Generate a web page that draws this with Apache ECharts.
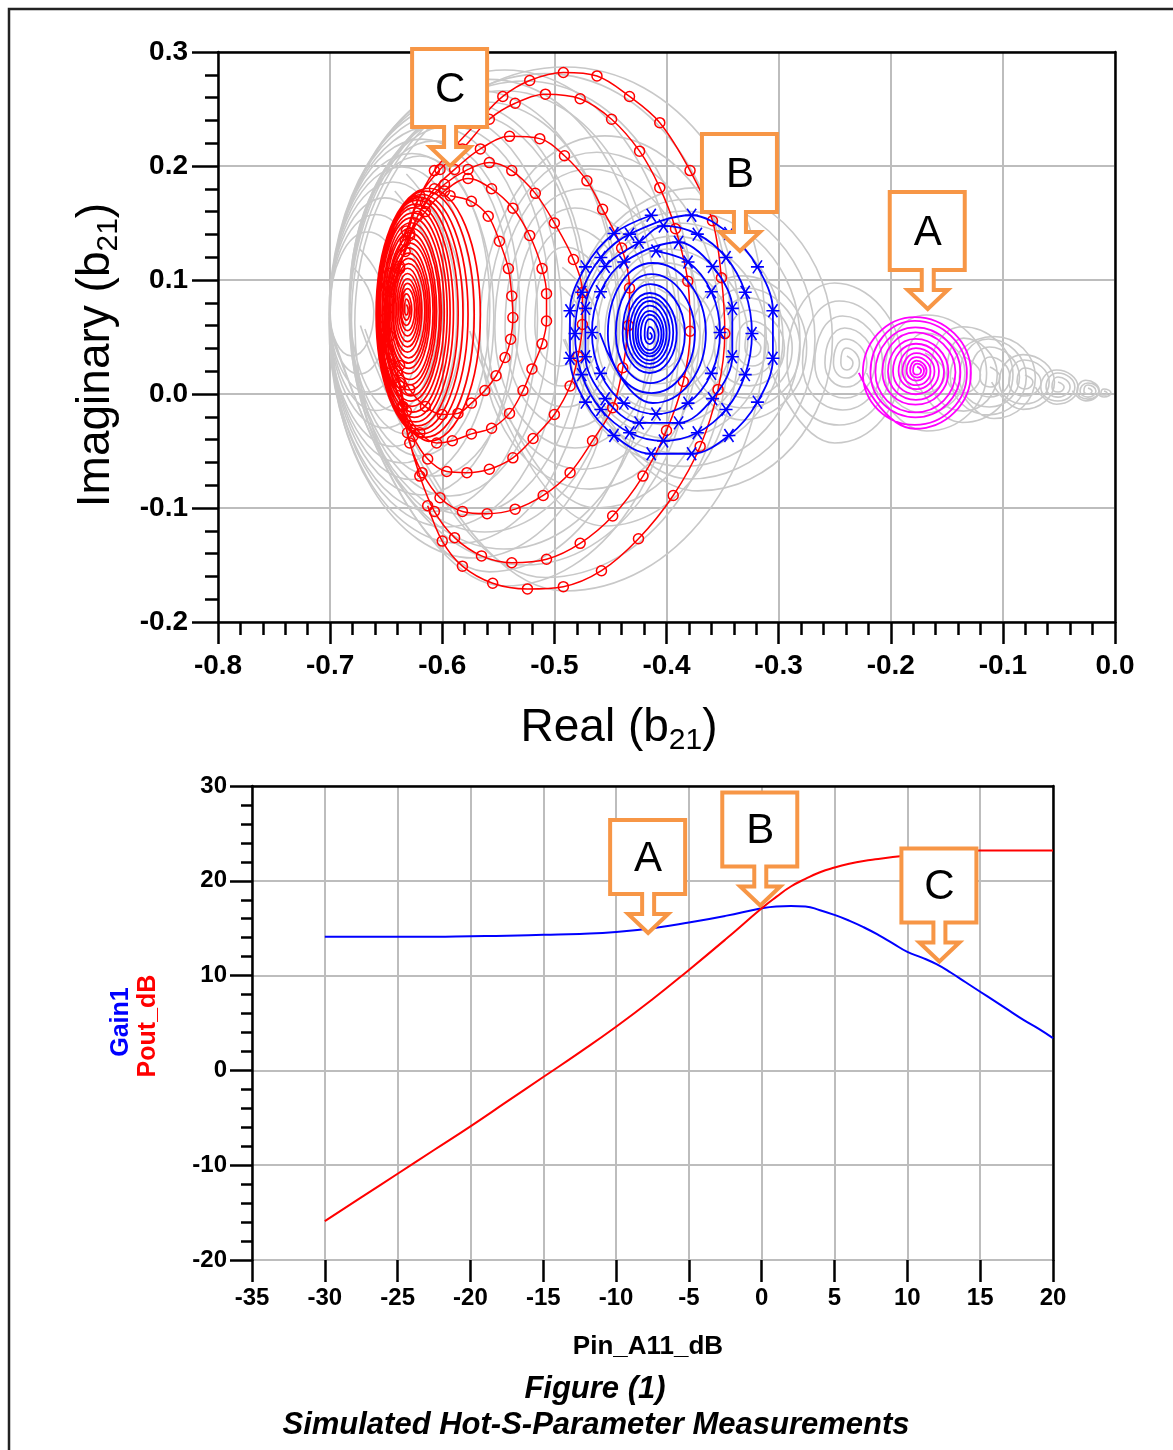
<!DOCTYPE html>
<html>
<head>
<meta charset="utf-8">
<script src="https://cdn.jsdelivr.net/npm/echarts@6.0.0/dist/echarts.min.js"></script>
<style>html,body{margin:0;padding:0;background:#fff}#c{width:1173px;height:1450px}</style>
</head>
<body>
<div id="c"></div>
<script>
// ================= TOP CHART: b21 trajectories =================
// Dense inner turns, read as [centreX, centreY, halfWidth, halfHeight] per turn (inside -> out)
const redInnerLoops = [
  [-0.632, 0.074, 0.0016, 0.0046], [-0.632, 0.074, 0.0032, 0.0092], [-0.632, 0.074, 0.0048, 0.0138],
  [-0.631, 0.074, 0.0064, 0.0184], [-0.631, 0.074, 0.008, 0.023], [-0.631, 0.0735, 0.0096, 0.0276],
  [-0.631, 0.0735, 0.0112, 0.0322], [-0.631, 0.0735, 0.0128, 0.0368], [-0.630, 0.073, 0.0144, 0.0414],
  [-0.630, 0.073, 0.016, 0.046], [-0.630, 0.073, 0.0176, 0.0506], [-0.630, 0.073, 0.0192, 0.0552],
  [-0.629, 0.0725, 0.0208, 0.0598], [-0.629, 0.0725, 0.0224, 0.0644], [-0.629, 0.0725, 0.024, 0.069],
  [-0.628, 0.072, 0.0256, 0.0736], [-0.628, 0.072, 0.0272, 0.0782], [-0.627, 0.072, 0.0288, 0.0828],
  [-0.626, 0.0715, 0.0304, 0.0874], [-0.625, 0.0715, 0.032, 0.092], [-0.624, 0.071, 0.034, 0.0955],
  [-0.622, 0.071, 0.0362, 0.099], [-0.620, 0.0705, 0.0385, 0.102], [-0.618, 0.070, 0.041, 0.105],
  [-0.615, 0.070, 0.0435, 0.108], [-0.612, 0.0695, 0.046, 0.111]
];
// Outer turns of the red spiral: the marker positions [Re, Im]
const redOuterPath = [
  [-0.593, 0.174], [-0.574, 0.169], [-0.559, 0.156], [-0.549, 0.134], [-0.541, 0.110], [-0.538, 0.086], [-0.537, 0.067],
  [-0.539, 0.048], [-0.544, 0.032], [-0.552, 0.016], [-0.562, 0.003], [-0.574, -0.008], [-0.586, -0.017], [-0.600, -0.018],
  [-0.615, -0.011], [-0.629, 0.004], [-0.638, 0.025], [-0.647, 0.051], [-0.647, 0.082], [-0.638, 0.112], [-0.629, 0.139],
  [-0.615, 0.160], [-0.598, 0.178],
  [-0.577, 0.189], [-0.556, 0.180], [-0.537, 0.163], [-0.522, 0.139], [-0.511, 0.110], [-0.507, 0.088], [-0.507, 0.064],
  [-0.511, 0.044], [-0.520, 0.022], [-0.528, 0.003], [-0.540, -0.017], [-0.556, -0.030], [-0.574, -0.035], [-0.591, -0.041],
  [-0.605, -0.043], [-0.620, -0.034], [-0.632, -0.015], [-0.638, 0.010], [-0.648, 0.039], [-0.648, 0.075], [-0.638, 0.110],
  [-0.629, 0.141], [-0.615, 0.167], [-0.598, 0.184],
  [-0.577, 0.197], [-0.558, 0.203], [-0.538, 0.196], [-0.517, 0.176], [-0.500, 0.150], [-0.483, 0.118], [-0.475, 0.089],
  [-0.475, 0.061], [-0.479, 0.033], [-0.486, 0.007], [-0.500, -0.018], [-0.519, -0.039], [-0.537, -0.056], [-0.558, -0.066],
  [-0.578, -0.069], [-0.596, -0.068], [-0.613, -0.057], [-0.626, -0.037], [-0.635, -0.011], [-0.640, 0.020], [-0.650, 0.055],
  [-0.648, 0.090], [-0.633, 0.125], [-0.622, 0.156], [-0.607, 0.180], [-0.589, 0.197],
  [-0.566, 0.215], [-0.540, 0.226], [-0.513, 0.224], [-0.491, 0.209], [-0.471, 0.187], [-0.457, 0.162], [-0.440, 0.128],
  [-0.433, 0.093], [-0.434, 0.060], [-0.439, 0.023], [-0.448, -0.012], [-0.466, -0.041], [-0.486, -0.069], [-0.510, -0.089],
  [-0.535, -0.101], [-0.560, -0.105], [-0.582, -0.103], [-0.602, -0.091], [-0.618, -0.069], [-0.629, -0.043], [-0.636, -0.011],
  [-0.648, 0.027], [-0.651, 0.066], [-0.647, 0.106], [-0.632, 0.143], [-0.620, 0.174], [-0.602, 0.197], [-0.582, 0.215],
  [-0.558, 0.241], [-0.535, 0.255], [-0.508, 0.263], [-0.477, 0.259], [-0.449, 0.241], [-0.424, 0.213], [-0.406, 0.181],
  [-0.392, 0.145], [-0.381, 0.099], [-0.379, 0.055], [-0.385, 0.011], [-0.400, -0.032], [-0.421, -0.072], [-0.448, -0.107],
  [-0.477, -0.131], [-0.507, -0.145], [-0.538, -0.148], [-0.565, -0.142], [-0.589, -0.126], [-0.607, -0.103], [-0.620, -0.072],
  [-0.631, -0.034], [-0.638, 0.007], [-0.652, 0.051], [-0.649, 0.095], [-0.633, 0.134], [-0.622, 0.169], [-0.607, 0.196],
  [-0.589, 0.217], [-0.568, 0.239],
  [-0.546, 0.261], [-0.522, 0.275], [-0.492, 0.282], [-0.462, 0.279], [-0.433, 0.261], [-0.406, 0.238], [-0.379, 0.196],
  [-0.359, 0.152], [-0.351, 0.102], [-0.348, 0.053], [-0.354, 0.004], [-0.370, -0.046], [-0.394, -0.089], [-0.425, -0.127],
  [-0.458, -0.155], [-0.492, -0.169], [-0.524, -0.171], [-0.555, -0.166], [-0.582, -0.151], [-0.600, -0.129], [-0.613, -0.098]
];
const blueInnerLoops = [
  [-0.415, 0.051, 0.002, 0.003], [-0.415, 0.0513, 0.0045, 0.0075], [-0.415, 0.052, 0.008, 0.0136],
  [-0.415, 0.0525, 0.0105, 0.017], [-0.415, 0.053, 0.0125, 0.020], [-0.415, 0.0535, 0.015, 0.024],
  [-0.415, 0.054, 0.0178, 0.0276], [-0.415, 0.054, 0.021, 0.031], [-0.415, 0.0535, 0.0241, 0.0351],
  [-0.4144, 0.053, 0.0308, 0.0434], [-0.4135, 0.053, 0.0388, 0.0522], [-0.4122, 0.0535, 0.0473, 0.0614]
];
// Outer four turns of the blue spiral, marker positions [Re, Im]
const blueOuterPath = [
  [-0.4094, 0.1254], [-0.3808, 0.1158], [-0.3600, 0.0897], [-0.3523, 0.0539], [-0.3600, 0.0181], [-0.3808, -0.0080],
  [-0.4094, -0.0176], [-0.4380, -0.0080], [-0.4588, 0.0181], [-0.4665, 0.0539], [-0.4588, 0.0897], [-0.4380, 0.1158],
  [-0.3892, 0.1331], [-0.3589, 0.1119], [-0.3413, 0.0751], [-0.3413, 0.0327], [-0.3589, -0.0041], [-0.3892, -0.0253],
  [-0.4244, -0.0253], [-0.4547, -0.0041], [-0.4723, 0.0327], [-0.4723, 0.0751], [-0.4547, 0.1119], [-0.4244, 0.1331],
  [-0.4027, 0.1474], [-0.3725, 0.1402], [-0.3469, 0.1198], [-0.3298, 0.0892], [-0.3238, 0.0531], [-0.3298, 0.0170],
  [-0.3469, -0.0136], [-0.3725, -0.0340], [-0.4027, -0.0412], [-0.4329, -0.0340], [-0.4585, -0.0136], [-0.4756, 0.0170],
  [-0.4816, 0.0531], [-0.4756, 0.0892], [-0.4585, 0.1198], [-0.4329, 0.1402],
  [-0.3776, 0.1568], [-0.3443, 0.1408], [-0.3189, 0.1115], [-0.3051, 0.0730], [-0.3051, 0.0314], [-0.3189, -0.0071],
  [-0.3443, -0.0364], [-0.3776, -0.0524], [-0.4136, -0.0524], [-0.4469, -0.0364], [-0.4723, -0.0071], [-0.4861, 0.0314],
  [-0.4861, 0.0730], [-0.4723, 0.1115], [-0.4469, 0.1408], [-0.4136, 0.1568]
];
const magentaLoops = [
  [-0.1765, 0.0205, 0.0036, 0.0035], [-0.1765, 0.0205, 0.0062, 0.0061], [-0.177, 0.0205, 0.0089, 0.0088],
  [-0.177, 0.020, 0.0125, 0.0123], [-0.177, 0.020, 0.016, 0.0158], [-0.1775, 0.020, 0.0205, 0.0202],
  [-0.1775, 0.0195, 0.025, 0.0246], [-0.178, 0.0195, 0.0294, 0.0289], [-0.178, 0.019, 0.0357, 0.0351],
  [-0.178, 0.019, 0.0401, 0.0395], [-0.1785, 0.0185, 0.0464, 0.0456], [-0.1785, 0.0185, 0.050, 0.049]
];
// grey traces of the other drive levels, [centreX, centreY, halfWidth, halfHeight] per turn
const grayLeftEnvelope = [
  [-0.6806, 0.0728, 0.0196, 0.0395], [-0.6664, 0.0719, 0.0339, 0.0702], [-0.6512, 0.0711, 0.0491, 0.1009],
  [-0.6361, 0.0693, 0.0642, 0.1298], [-0.6182, 0.0675, 0.0821, 0.1561], [-0.5968, 0.0649, 0.1035, 0.1816],
  [-0.5718, 0.0614, 0.1285, 0.2053], [-0.5442, 0.0579, 0.1561, 0.2263]
];
const grayLeftEnvelope2 = [
  [-0.674, 0.0725, 0.026, 0.055], [-0.659, 0.0715, 0.041, 0.086], [-0.644, 0.070, 0.057, 0.116],
  [-0.627, 0.068, 0.073, 0.143], [-0.608, 0.066, 0.093, 0.169], [-0.585, 0.063, 0.116, 0.194],
  [-0.558, 0.060, 0.142, 0.216]
];
const grayRedToBlue = [
  [-0.6423, 0.0816, 0.0401, 0.0965], [-0.6200, 0.0772, 0.0624, 0.1316], [-0.5932, 0.0728, 0.0892, 0.1623],
  [-0.5620, 0.0675, 0.1204, 0.1886], [-0.5263, 0.0623, 0.1517, 0.2123], [-0.4906, 0.0570, 0.1784, 0.2298]
];
const grayRedToBlue2 = [
  [-0.632, 0.079, 0.051, 0.114], [-0.607, 0.075, 0.076, 0.147], [-0.578, 0.070, 0.105, 0.176],
  [-0.545, 0.065, 0.136, 0.201], [-0.508, 0.060, 0.165, 0.221]
];
const grayMid = [
  [-0.4951, 0.0596, 0.0223, 0.0351], [-0.4906, 0.0588, 0.0446, 0.0702], [-0.4817, 0.0579, 0.0714, 0.1053],
  [-0.4683, 0.0570, 0.0981, 0.1404], [-0.4550, 0.0553, 0.1204, 0.1711]
];
const grayMid2 = [[-0.493, 0.059, 0.033, 0.052], [-0.486, 0.058, 0.058, 0.088], [-0.475, 0.057, 0.085, 0.123], [-0.462, 0.056, 0.110, 0.156]];
const grayAroundBlue = [
  [-0.4103, 0.0509, 0.0268, 0.0307], [-0.4059, 0.0509, 0.0491, 0.0526], [-0.3988, 0.0500, 0.0714, 0.0772],
  [-0.3898, 0.0491, 0.0937, 0.1009], [-0.3791, 0.0482, 0.1115, 0.1228]
];
const grayAroundBlue2 = [[-0.408, 0.051, 0.038, 0.042], [-0.402, 0.050, 0.060, 0.065], [-0.394, 0.0495, 0.083, 0.089], [-0.384, 0.0485, 0.103, 0.112], [-0.372, 0.048, 0.12, 0.133]];
const grayRingsE = [
  [-0.3229, 0.0404, 0.0071, 0.0079], [-0.3235, 0.0404, 0.0143, 0.0158], [-0.3245, 0.0404, 0.0223, 0.0237],
  [-0.326, 0.0404, 0.0312, 0.0333], [-0.328, 0.0404, 0.0401, 0.0439], [-0.330, 0.0404, 0.0491, 0.0526],
  [-0.333, 0.0404, 0.058, 0.0632]
];
const grayRingsF = [
  [-0.2391, 0.0272, 0.0054, 0.0061], [-0.2395, 0.0272, 0.0116, 0.0132], [-0.240, 0.0272, 0.0187, 0.0211],
  [-0.241, 0.0272, 0.0268, 0.0307], [-0.243, 0.0272, 0.0357, 0.0412], [-0.246, 0.0272, 0.0464, 0.0544],
  [-0.250, 0.0272, 0.0598, 0.0702]
];
const grayRingsG = [[-0.1695, 0.0184, 0.0178, 0.0175], [-0.1695, 0.0184, 0.0357, 0.0351], [-0.168, 0.0184, 0.0535, 0.0509]];
const grayBridge = [[-0.135, 0.017, 0.015, 0.016], [-0.135, 0.017, 0.030, 0.032], [-0.136, 0.017, 0.045, 0.042]];
const grayCone1 = [[-0.1115, 0.0149, 0.0089, 0.0088], [-0.1115, 0.0149, 0.0178, 0.0175], [-0.112, 0.0149, 0.0268, 0.0263], [-0.113, 0.015, 0.0339, 0.0333], [-0.108, 0.0145, 0.037, 0.036]];
const grayCone2 = [[-0.0803, 0.0105, 0.0071, 0.0061], [-0.0803, 0.0105, 0.0143, 0.0123], [-0.081, 0.0105, 0.0223, 0.0193], [-0.082, 0.0105, 0.028, 0.024]];
const grayCone3 = [[-0.0508, 0.0061, 0.0054, 0.0044], [-0.0508, 0.0061, 0.0107, 0.0088], [-0.051, 0.0061, 0.0152, 0.0123], [-0.052, 0.006, 0.019, 0.015]];
const grayCone4 = [[-0.0241, 0.0026, 0.0036, 0.0026], [-0.0241, 0.0026, 0.0071, 0.0053], [-0.0241, 0.0026, 0.0098, 0.007], [-0.026, 0.003, 0.012, 0.009]];
const grayCone5 = [[-0.0098, 0.0009, 0.0027, 0.0018], [-0.0098, 0.0009, 0.0062, 0.0035]];

// callouts: label, Re, Im of the arrow tip
const topCallouts = [['C', -0.593, 0.200], ['B', -0.3345, 0.1254], ['A', -0.167, 0.0746]];

// ================= BOTTOM CHART: gain & output power =================
const pinDb  = [-30, -27.5, -25, -22.5, -20, -17.5, -15, -12.5, -10, -7.5, -5, -2.5, 0, 1, 2, 3, 4, 5, 6, 7, 8, 9, 10, 11, 12, 13, 14, 15, 16, 17, 18, 19, 20];
const gain1  = [14.1, 14.1, 14.1, 14.1, 14.15, 14.2, 14.3, 14.4, 14.6, 15.0, 15.6, 16.3, 17.1, 17.3, 17.35, 17.3, 16.9, 16.4, 15.8, 15.1, 14.3, 13.4, 12.5, 11.9, 11.2, 10.3, 9.3, 8.3, 7.3, 6.3, 5.3, 4.4, 3.4];
const poutDb = [-15.9, -13.4, -10.9, -8.4, -5.9, -3.3, -0.7, 1.9, 4.6, 7.5, 10.6, 13.8, 17.1, 18.3, 19.4, 20.2, 20.9, 21.4, 21.8, 22.1, 22.3, 22.5, 22.7, 22.9, 23.0, 23.1, 23.15, 23.2, 23.2, 23.2, 23.2, 23.2, 23.2];
const bottomCallouts = [['A', -7.8, 14.5], ['B', -0.1, 17.4], ['C', 12.2, 11.5]];

// ================= RENDER =================
const FONT = '"Liberation Sans", Arial, sans-serif';
const chart = echarts.init(document.getElementById('c'), null, {renderer: 'canvas', width: 1173, height: 1450});

function loopPts(loops) {
  const out = [];
  loops.forEach(([cx, cy, rx, ry]) => {
    out.push([cx, cy + ry], [cx + rx, cy], [cx, cy - ry], [cx - rx, cy]);
  });
  return out;
}
const grayGroups = [grayLeftEnvelope, grayLeftEnvelope2, grayRedToBlue, grayRedToBlue2, grayMid, grayMid2,
  grayAroundBlue, grayAroundBlue2, grayRingsE, grayRingsF, grayRingsG, grayBridge,
  grayCone1, grayCone2, grayCone3, grayCone4, grayCone5];

const series = [];
grayGroups.forEach(g => series.push({
  type: 'line', xAxisIndex: 0, yAxisIndex: 0, data: loopPts(g), smooth: 0.55, symbol: 'none',
  lineStyle: {color: '#c8c8c8', width: 1.6}, silent: true, z: 1
}));
series.push({
  type: 'line', xAxisIndex: 0, yAxisIndex: 0, data: loopPts(redInnerLoops), smooth: 0.55, symbol: 'none',
  lineStyle: {color: '#ff0000', width: 1.7}, silent: true, z: 3
});
series.push({
  type: 'line', xAxisIndex: 0, yAxisIndex: 0, data: redOuterPath, smooth: 0.35,
  symbol: 'circle', symbolSize: 10, showAllSymbol: true,
  itemStyle: {color: 'rgba(255,255,255,0)', borderColor: '#ff0000', borderWidth: 1.5},
  lineStyle: {color: '#ff0000', width: 1.5}, silent: true, z: 3
});
series.push({
  type: 'line', xAxisIndex: 0, yAxisIndex: 0, data: loopPts(blueInnerLoops), smooth: 0.55, symbol: 'none',
  lineStyle: {color: '#0000ff', width: 1.8}, silent: true, z: 4
});
series.push({
  type: 'line', xAxisIndex: 0, yAxisIndex: 0, data: blueOuterPath, smooth: 0.35,
  symbol: 'path://M0,5L10,5M1.5,1L8.5,9M8.5,1L1.5,9', symbolSize: 13, showAllSymbol: true,
  itemStyle: {color: 'rgba(0,0,0,0)', borderColor: '#0000ff', borderWidth: 1.6},
  lineStyle: {color: '#0000ff', width: 1.8}, silent: true, z: 4
});
series.push({
  type: 'line', xAxisIndex: 0, yAxisIndex: 0, data: loopPts(magentaLoops), smooth: 0.55, symbol: 'none',
  lineStyle: {color: '#ff00ff', width: 1.8}, silent: true, z: 5
});
series.push({
  type: 'line', xAxisIndex: 1, yAxisIndex: 1, data: pinDb.map((p, i) => [p, gain1[i]]), smooth: true,
  symbol: 'none', lineStyle: {color: '#0000ff', width: 2}, silent: true, z: 3
});
series.push({
  type: 'line', xAxisIndex: 1, yAxisIndex: 1, data: pinDb.map((p, i) => [p, poutDb[i]]), smooth: true,
  symbol: 'none', lineStyle: {color: '#ff0000', width: 2}, silent: true, z: 3
});

const blackLine = {color: '#000', width: 2.5};
const grid2 = {color: '#bdbdbd', width: 2};
const frameX = (gi, min, max) => ({gridIndex: gi, type: 'value', position: 'top', min: min, max: max,
  axisLine: {show: true, onZero: false, lineStyle: blackLine}, axisTick: {show: false}, axisLabel: {show: false}, splitLine: {show: false}});
const frameY = (gi, min, max) => ({gridIndex: gi, type: 'value', position: 'right', min: min, max: max,
  axisLine: {show: true, onZero: false, lineStyle: blackLine}, axisTick: {show: false}, axisLabel: {show: false}, splitLine: {show: false}});

chart.setOption({
  animation: false,
  backgroundColor: '#fff',
  grid: [
    {left: 218, top: 52, width: 897, height: 570, show: false, containLabel: false, outerBoundsMode: 'none'},
    {left: 252, top: 786, width: 801, height: 474, show: false, containLabel: false, outerBoundsMode: 'none'}
  ],
  xAxis: [
    {gridIndex: 0, type: 'value', min: -0.8, max: 0, interval: 0.1,
     axisLine: {show: true, onZero: false, lineStyle: blackLine},
     axisTick: {show: true, inside: false, length: 22, lineStyle: blackLine},
     minorTick: {show: true, splitNumber: 5, length: 13, lineStyle: blackLine},
     axisLabel: {margin: 30, fontSize: 28, fontWeight: 'bold', color: '#000', fontFamily: FONT, formatter: v => v.toFixed(1)},
     splitLine: {show: true, lineStyle: grid2}},
    {gridIndex: 1, type: 'value', min: -35, max: 20, interval: 5,
     axisLine: {show: false, onZero: false},
     axisTick: {show: true, inside: false, length: 22, lineStyle: blackLine},
     axisLabel: {margin: 26, fontSize: 24, fontWeight: 'bold', color: '#000', fontFamily: FONT},
     splitLine: {show: true, lineStyle: grid2}},
    frameX(1, -35, 20),
    frameX(0, -0.8, 0)
  ],
  yAxis: [
    {gridIndex: 0, type: 'value', min: -0.2, max: 0.3, interval: 0.1,
     axisLine: {show: true, onZero: false, lineStyle: blackLine},
     axisTick: {show: true, inside: false, length: 26, lineStyle: blackLine},
     minorTick: {show: true, splitNumber: 5, length: 13, lineStyle: blackLine},
     axisLabel: {margin: 30, fontSize: 28, fontWeight: 'bold', color: '#000', fontFamily: FONT, formatter: v => v.toFixed(1)},
     splitLine: {show: true, lineStyle: grid2}},
    {gridIndex: 1, type: 'value', min: -20, max: 30, interval: 10,
     axisLine: {show: true, onZero: false, lineStyle: blackLine},
     axisTick: {show: true, inside: false, length: 22, lineStyle: blackLine},
     minorTick: {show: true, splitNumber: 5, length: 11, lineStyle: blackLine},
     axisLabel: {margin: 25, fontSize: 24, fontWeight: 'bold', color: '#000', fontFamily: FONT},
     splitLine: {show: true, lineStyle: grid2}},
    frameY(1, -20, 30),
    frameY(0, -0.2, 0.3)
  ],
  series: series
});

function callout(tx, ty, boxH, letter) {
  const L = tx - 38, R = tx + 37, B = ty - 39, T = B - boxH, hy = ty - 19;
  return [
    {type: 'polygon', z: 100, shape: {points: [[L, T], [R, T], [R, B], [tx + 6, B], [tx + 6, hy], [tx + 20, hy], [tx, ty], [tx - 20, hy], [tx - 6, hy], [tx - 6, B], [L, B]]},
     style: {fill: '#fff', stroke: '#F79646', lineWidth: 4, lineJoin: 'miter'}},
    {type: 'text', z: 101, x: tx, y: (T + B) / 2 + 2,
     style: {text: letter, fill: '#000', fontSize: 42, fontFamily: FONT, align: 'center', verticalAlign: 'middle'}}
  ];
}

const subRich = {
  n: {fontSize: 46, fontFamily: FONT, lineHeight: 56, verticalAlign: 'middle', fill: '#000'},
  s: {fontSize: 30, fontFamily: FONT, lineHeight: 30, verticalAlign: 'bottom', fill: '#000'}
};
const graphics = [
  {type: 'rect', z: 0, shape: {x: 9, y: 9, width: 1200, height: 1500}, style: {fill: 'none', stroke: '#222', lineWidth: 2.5}},
  {type: 'text', z: 50, x: 619, y: 728,
   style: {text: '{n|Real (b}{s|21}{n|)}', align: 'center', verticalAlign: 'middle', fill: '#000', rich: subRich}},
  {type: 'text', z: 50, x: 96, y: 355, rotation: Math.PI / 2,
   style: {text: '{n|Imaginary (b}{s|21}{n|)}', align: 'center', verticalAlign: 'middle', fill: '#000', rich: subRich}},
  {type: 'text', z: 50, x: 121, y: 1022, rotation: Math.PI / 2,
   style: {text: 'Gain1', fill: '#0000ff', fontSize: 25, fontWeight: 'bold', fontFamily: FONT, align: 'center', verticalAlign: 'middle'}},
  {type: 'text', z: 50, x: 148, y: 1026, rotation: Math.PI / 2,
   style: {text: 'Pout_dB', fill: '#ff0000', fontSize: 25, fontWeight: 'bold', fontFamily: FONT, align: 'center', verticalAlign: 'middle'}},
  {type: 'text', z: 50, x: 648, y: 1347,
   style: {text: 'Pin_A11_dB', fill: '#000', fontSize: 26, fontWeight: 'bold', fontFamily: FONT, align: 'center', verticalAlign: 'middle'}},
  {type: 'text', z: 50, x: 595, y: 1389,
   style: {text: 'Figure (1)', fill: '#000', fontSize: 31, fontWeight: 'bold', fontStyle: 'italic', fontFamily: FONT, align: 'center', verticalAlign: 'middle'}},
  {type: 'text', z: 50, x: 596, y: 1425,
   style: {text: 'Simulated Hot-S-Parameter Measurements', fill: '#000', fontSize: 31, fontWeight: 'bold', fontStyle: 'italic', fontFamily: FONT, align: 'center', verticalAlign: 'middle'}}
];
topCallouts.forEach(([t, x, y]) => {
  const p = chart.convertToPixel({gridIndex: 0}, [x, y]);
  graphics.push(...callout(p[0], p[1], 78, t));
});
bottomCallouts.forEach(([t, x, y]) => {
  const p = chart.convertToPixel({gridIndex: 1}, [x, y]);
  graphics.push(...callout(p[0], p[1], 74, t));
});
chart.setOption({graphic: graphics});
</script>
</body>
</html>
